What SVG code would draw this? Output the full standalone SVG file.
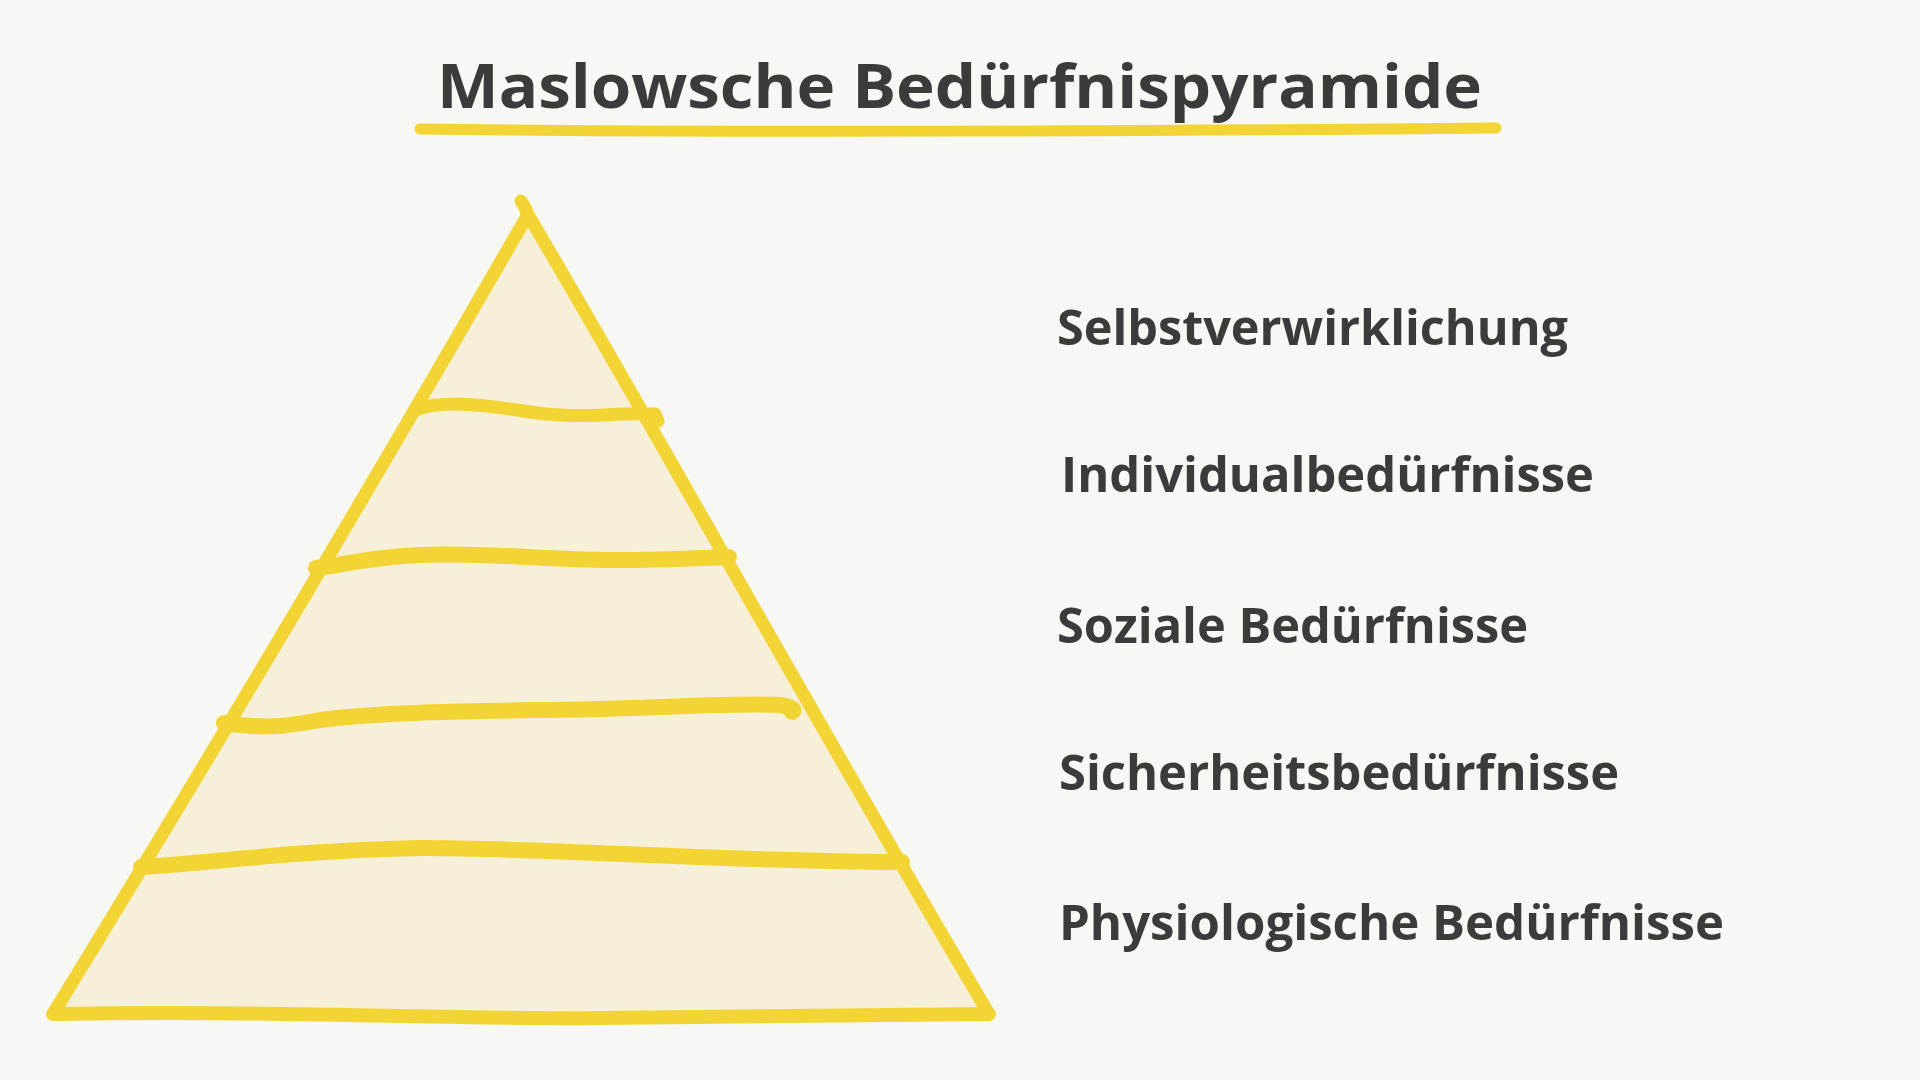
<svg xmlns="http://www.w3.org/2000/svg" width="1920" height="1080" viewBox="0 0 1920 1080">
<style>
.pen{fill:none;stroke:#f2d535;stroke-linecap:round;stroke-linejoin:round}
.lbl{font-family:"Open Sans","Inter","Liberation Sans",sans-serif;font-weight:700;font-size:48px;fill:#3b3b3b}
.ttl{font-family:"Open Sans","Inter","Liberation Sans",sans-serif;font-weight:700;font-size:60px;fill:#3b3b3b}
</style>
<rect width="1920" height="1080" fill="#f7f7f3"/>
<g id="title">
<text class="ttl" x="437" y="108" textLength="1045" lengthAdjust="spacingAndGlyphs">Maslowsche Bedürfnispyramide</text>
<path class="pen" stroke-width="11" d="M420,129 C700,133 1200,131 1496,128"/>
</g>
<g id="pyramid">
<path d="M527,213 L989,1014 L53,1014 Z" fill="#f6f0d9"/>
<path class="pen" stroke-width="13" d="M521,201 C524,206 528,210 527,216 C450,350 300,610 53,1014"/>
<path class="pen" stroke-width="13" d="M527,213 C650,420 820,730 989,1014"/>
<path class="pen" stroke-width="14" d="M53,1014 C300,1010 450,1020 600,1018 C750,1016 900,1014 989,1014"/>
</g>
<g id="layers">
<path class="pen" stroke-width="13" d="M416,410 C440,400 480,404 530,412 C580,420 610,412 655,414 L658,421"/>
<path class="pen" stroke-width="16" d="M316,568 C340,566 360,558 420,555 C490,552 540,560 612,560 C660,560 700,558 729,557"/>
<path class="pen" stroke-width="16" d="M224,723 C260,728 280,728 320,720 C400,710 520,711 600,709 C680,707 740,703 780,705 C792,707 796,710 792,712"/>
<path class="pen" stroke-width="16" d="M141,867 C200,864 300,850 420,848 C560,848 700,861 902,862"/>
</g>
<g id="labels">
<text id="l5" class="lbl" x="1057" y="345" textLength="511" lengthAdjust="spacingAndGlyphs">Selbstverwirklichung</text>
<text id="l4" class="lbl" x="1061" y="492" textLength="533" lengthAdjust="spacingAndGlyphs">Individualbedürfnisse</text>
<text id="l3" class="lbl" x="1057" y="643" textLength="471" lengthAdjust="spacingAndGlyphs">Soziale Bedürfnisse</text>
<text id="l2" class="lbl" x="1059" y="790" textLength="560" lengthAdjust="spacingAndGlyphs">Sicherheitsbedürfnisse</text>
<text id="l1" class="lbl" x="1059" y="940" textLength="665" lengthAdjust="spacingAndGlyphs">Physiologische Bedürfnisse</text>
</g>
</svg>
